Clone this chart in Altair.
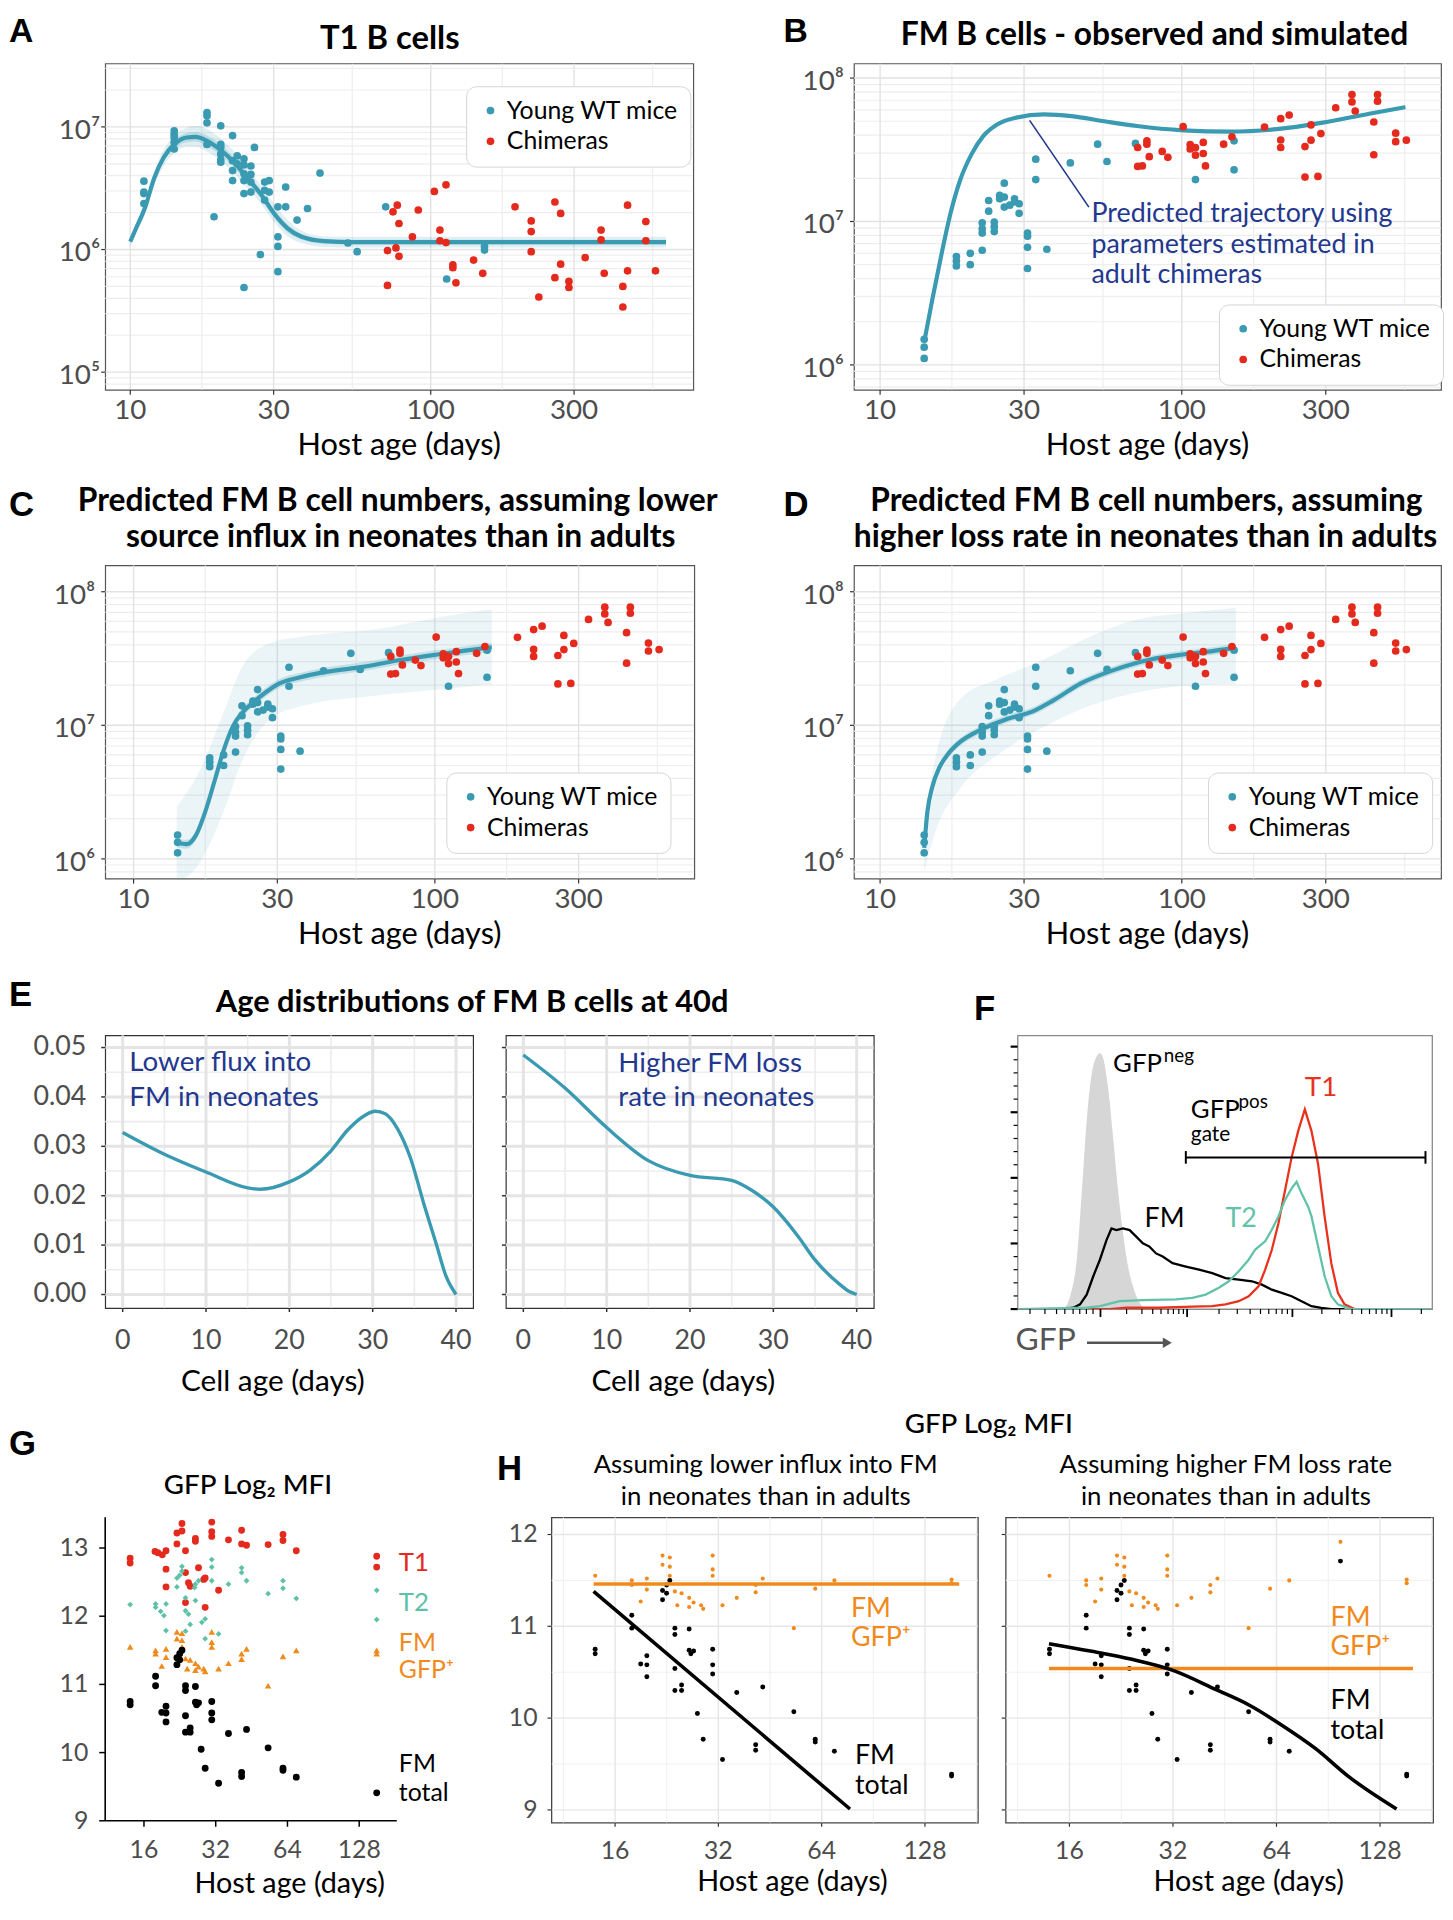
import altair as alt
import pandas as pd

# ---------------- fonts / colours ----------------
FONT = "Lato"
LFONT = "Liberation Sans"
TEAL = "#3a9ab2"
RED = "#e42a1d"
NAVY = "#22388e"
ORANGE = "#f08a1c"
T2C = "#5ec1a8"
LBL = "#4d4d4d"
GMAJ = "#e2e2e2"
GMIN = "#eeeeee"

# ---------------- data: panel A (T1 B cells) ----------------
a_wt = [(11.1, 3.61e6), (11.1, 2.94e6), (11.1, 2.86e6), (11.1, 2.37e6),
        (14.0, 9.3e6), (14.0, 8.7e6), (14.0, 8.2e6), (14.0, 7.5e6), (14.0, 6.6e6),
        (18.0, 1.31e7), (18.0, 1.23e7), (18.0, 1.08e7), (18.0, 7.2e6), (19.0, 1.85e6),
        (20.0, 1.02e7), (20.0, 7.2e6), (20.0, 6.8e6), (20.0, 6.0e6), (20.0, 5.4e6), (20.0, 5.15e6),
        (21.9, 8.5e6), (21.9, 5.3e6), (21.9, 4.4e6), (21.9, 3.65e6), (22.7, 5.8e6), (22.7, 5.0e6),
        (23.9, 5.5e6), (23.9, 4.9e6), (23.9, 4.14e6), (23.9, 3.65e6), (23.9, 2.86e6), (23.9, 4.9e5),
        (25.2, 4.8e6), (25.2, 4.1e6), (25.2, 3.55e6), (25.2, 2.94e6), (25.9, 6.8e6), (27.1, 9.1e5),
        (28.0, 3.55e6), (28.0, 3.04e6), (28.0, 2.53e6), (29.0, 3.65e6), (29.0, 2.94e6),
        (31.0, 2.23e6), (31.0, 1.27e6), (31.0, 1.06e6), (31.0, 6.6e5), (32.9, 3.23e6), (32.9, 2.23e6),
        (35.9, 1.74e6), (38.9, 2.16e6), (42.8, 4.2e6), (53.0, 1.13e6), (56.9, 9.6e5), (70.8, 2.23e6),
        (113, 5.75e5), (151, 1.06e6), (151, 9.9e5)]
a_ch = [(71.8, 9.8e5), (71.8, 5.1e5), (74.9, 2.03e6), (76.6, 1.03e6), (77.4, 2.3e6), (78.4, 1.63e6),
        (78.4, 8.8e5), (86.9, 1.27e6), (90.9, 2.1e6), (102.8, 2.98e6), (107.3, 1.44e6), (107.3, 1.18e6),
        (112.4, 3.37e6), (112.4, 1.14e6), (118.5, 7.5e5), (118.5, 7.1e5), (121.3, 5.35e5), (138.9, 8.2e5),
        (149, 6.4e5), (190.8, 2.23e6), (216, 1.71e6), (216, 1.40e6), (216, 9.6e5), (229, 4.1e5),
        (259, 2.44e6), (259, 5.9e5), (270.7, 1.97e6), (270.7, 7.6e5), (288.4, 5.5e5), (288.4, 4.9e5),
        (326.6, 8.6e5), (369, 1.44e6), (369, 1.2e6), (378, 6.4e5), (436, 5.0e5), (436, 3.4e5),
        (452, 2.3e6), (452, 6.7e5), (520, 1.69e6), (520, 1.18e6), (560, 6.7e5)]
a_line_x = [10, 10.4, 11.2, 12.0, 12.9, 14.0, 15.4, 16.5, 18.0, 19.8, 21.9, 24.4, 27.1, 30.1, 33.4, 37.2, 44.3, 54.9, 607]
a_line_y = [1.16e6, 1.45e6, 2.2e6, 3.8e6, 5.6e6, 7.2e6, 8.2e6, 8.3e6, 7.7e6, 6.6e6, 5.3e6, 3.9e6, 2.86e6,
            1.97e6, 1.49e6, 1.27e6, 1.17e6, 1.15e6, 1.15e6]
a_band_hi = [1.25e6, 1.6e6, 2.5e6, 4.3e6, 6.5e6, 8.5e6, 9.8e6, 1.02e7, 9.6e6, 8.2e6, 6.5e6, 4.7e6, 3.4e6,
             2.35e6, 1.75e6, 1.42e6, 1.28e6, 1.27e6, 1.27e6]
a_band_lo = [1.07e6, 1.32e6, 1.95e6, 3.3e6, 4.8e6, 6.1e6, 6.9e6, 6.9e6, 6.3e6, 5.4e6, 4.3e6, 3.2e6, 2.4e6,
             1.68e6, 1.28e6, 1.13e6, 1.05e6, 1.04e6, 1.04e6]
a_band2_hi = [1.21e6, 1.52e6, 2.32e6, 4.0e6, 6.0e6, 7.8e6, 8.9e6, 9.1e6, 8.5e6, 7.3e6, 5.8e6, 4.25e6, 3.1e6,
              2.13e6, 1.6e6, 1.34e6, 1.22e6, 1.2e6, 1.2e6]
a_band2_lo = [1.11e6, 1.38e6, 2.08e6, 3.55e6, 5.2e6, 6.6e6, 7.5e6, 7.6e6, 7.0e6, 6.0e6, 4.8e6, 3.55e6, 2.62e6,
              1.82e6, 1.38e6, 1.2e6, 1.11e6, 1.1e6, 1.1e6]

# ---------------- data: panels B, C, D (FM B cells) ----------------
fm_wt = [(14.0, 1.51e6), (14.0, 1.33e6), (14.0, 1.11e6), (17.9, 5.7e6), (17.9, 5.3e6), (17.9, 4.9e6),
         (19.9, 6.0e6), (19.9, 5.0e6), (21.8, 9.8e6), (21.8, 8.9e6), (21.8, 8.3e6), (21.8, 6.3e6),
         (22.9, 1.40e7), (22.9, 1.18e7), (23.9, 9.9e6), (23.9, 9.2e6), (23.9, 8.5e6), (24.9, 1.52e7),
         (24.9, 1.44e7), (25.8, 1.85e7), (25.8, 1.48e7), (25.8, 1.26e7), (26.9, 1.3e7), (27.9, 1.44e7),
         (27.9, 1.37e7), (28.9, 1.33e7), (28.9, 1.14e7), (30.8, 8.3e6), (30.8, 7.9e6), (30.8, 6.6e6),
         (30.8, 4.7e6), (32.8, 2.72e7), (32.8, 1.96e7), (35.7, 6.4e6), (42.7, 2.56e7), (52.6, 3.46e7),
         (56.5, 2.62e7), (70.2, 3.5e7), (111, 1.96e7), (149, 3.65e7), (149, 2.29e7)]
fm_ch = [(71.4, 3.28e7), (71.4, 2.42e7), (74.0, 2.44e7), (76.6, 3.65e7), (76.6, 3.46e7), (78.0, 2.83e7),
         (86.1, 3.08e7), (89.9, 2.8e7), (101, 4.58e7), (106.6, 3.43e7), (106.6, 3.2e7), (111, 3.28e7),
         (111, 2.9e7), (117.8, 3.56e7), (117.8, 2.98e7), (119.8, 2.44e7), (137.6, 3.46e7), (146.6, 3.89e7),
         (188, 4.56e7), (212.7, 5.21e7), (212.7, 3.7e7), (212.7, 3.28e7), (226.9, 5.52e7), (256, 3.33e7),
         (268, 4.71e7), (268, 3.69e7), (256, 2.04e7), (282.6, 2.06e7), (289, 4.1e7), (323.6, 6.21e7),
         (366.4, 7.67e7), (366.4, 6.82e7), (375.6, 5.89e7), (432.8, 4.94e7), (432.8, 2.92e7),
         (445.4, 7.67e7), (445.4, 6.9e7), (511.5, 4.13e7), (511.5, 3.6e7), (554.9, 3.69e7)]
b_line_x = [14.0, 14.9, 16.0, 17.1, 18.4, 20.1, 22.0, 24.5, 28.2, 34.9, 43.1, 55.3, 71, 101, 144, 206, 293, 418, 551]
b_line_y = [1.44e6, 2.86e6, 6.0e6, 1.13e7, 1.93e7, 2.95e7, 3.95e7, 4.76e7, 5.29e7, 5.58e7, 5.43e7, 5.0e7,
            4.63e7, 4.32e7, 4.23e7, 4.4e7, 4.89e7, 5.64e7, 6.27e7]
b_note_x = [31.3, 49.2]
b_note_y = [5.07e7, 1.26e7]
b_note_text = ["Predicted trajectory using", "parameters estimated in", "adult chimeras"]
b_note_tx = [50.2, 50.2, 50.2]
b_note_ty = [1.13e7, 6.9e6, 4.2e6]

c_line_x = [13.9, 15.0, 16.1, 17.3, 18.6, 19.9, 21.4, 23.0, 25.1, 27.4, 30.5, 35.2, 43.5, 57.7, 76.7, 101.9, 126, 154.5]
c_line_y = [1.32e6, 1.29e6, 1.5e6, 2.26e6, 3.88e6, 6.5e6, 9.9e6, 1.25e7, 1.5e7, 1.76e7, 2.06e7, 2.27e7,
            2.51e7, 2.74e7, 3.08e7, 3.39e7, 3.62e7, 3.84e7]
c_nar_hi = [1.43e6, 1.39e6, 1.62e6, 2.44e6, 4.2e6, 7.0e6, 1.07e7, 1.35e7, 1.62e7, 1.9e7, 2.22e7, 2.45e7,
            2.71e7, 2.96e7, 3.33e7, 3.66e7, 3.91e7, 4.15e7]
c_nar_lo = [1.22e6, 1.19e6, 1.39e6, 2.09e6, 3.59e6, 6.0e6, 9.2e6, 1.16e7, 1.39e7, 1.63e7, 1.91e7, 2.1e7,
            2.32e7, 2.54e7, 2.85e7, 3.14e7, 3.35e7, 3.56e7]
c_wide_x = [13.9, 16.7, 19.9, 23.0, 28.4, 36.4, 62, 105.5, 154.5]
c_wide_hi = [2.46e6, 4.7e6, 1.25e7, 2.77e7, 4.13e7, 4.63e7, 5.19e7, 6.5e7, 7.4e7]
c_wide_lo = [6.5e5, 9.6e5, 2.26e6, 5.5e6, 1.11e7, 1.4e7, 1.66e7, 1.86e7, 2.03e7]

d_line_x = [14.0, 14.35, 14.9, 15.7, 16.8, 18.4, 21.2, 26.2, 32.5, 37.4, 46.3, 59.4, 78.8, 101, 125, 149]
d_line_y = [1.21e6, 2.26e6, 3.47e6, 4.8e6, 6.1e6, 7.5e6, 9.1e6, 1.11e7, 1.29e7, 1.53e7, 2.06e7, 2.59e7,
            3.11e7, 3.39e7, 3.58e7, 3.8e7]
d_nar_hi = [1.3e6, 2.42e6, 3.71e6, 5.14e6, 6.53e6, 8.0e6, 9.7e6, 1.19e7, 1.38e7, 1.64e7, 2.2e7, 2.77e7,
            3.33e7, 3.63e7, 3.83e7, 4.07e7]
d_nar_lo = [1.13e6, 2.11e6, 3.24e6, 4.49e6, 5.7e6, 7.0e6, 8.5e6, 1.04e7, 1.21e7, 1.43e7, 1.93e7, 2.42e7,
            2.91e7, 3.17e7, 3.35e7, 3.55e7]
d_wide_x = [14.0, 15.4, 18.4, 24.4, 34.8, 49.7, 70.9, 101, 151]
d_wide_hi = [2.0e6, 6.3e6, 1.57e7, 2.21e7, 3.11e7, 4.63e7, 6.2e7, 6.9e7, 7.6e7]
d_wide_lo = [8.1e5, 1.7e6, 3.37e6, 5.96e6, 9.7e6, 1.4e7, 1.76e7, 1.97e7, 2.03e7]

# tick values / labels for the cell-number panels
count_x_ticks = [10, 30, 100, 300]
count_x_labels = ["10", "30", "100", "300"]
a_y_ticks = [1e5, 1e6, 1e7]
a_y_labels = ["10\u2075", "10\u2076", "10\u2077"]
fm_y_ticks = [1e6, 1e7, 1e8]
fm_y_labels = ["10\u2076", "10\u2077", "10\u2078"]

# ---------------- data: panel E (age distributions) ----------------
e1_x = [0, 5, 10, 15, 16.5, 20, 22.5, 25, 27, 29, 30.3, 31.5, 33, 34.5, 36.25, 37.6, 38.8, 40]
e1_y = [0.0328, 0.0284, 0.0248, 0.0216, 0.0213, 0.0228, 0.0252, 0.0291, 0.0333, 0.0362, 0.0371, 0.0366,
        0.0335, 0.0278, 0.0177, 0.0104, 0.0037, 0.0]
e2_x = [0, 5, 10, 15, 20, 25, 27.4, 30, 33, 35, 38, 39, 40]
e2_y = [0.0485, 0.0418, 0.0338, 0.0271, 0.0241, 0.0231, 0.0211, 0.0177, 0.0117, 0.007, 0.002, 0.0007, 0.0]
e_x_ticks = [0, 10, 20, 30, 40]
e_x_labels = ["0", "10", "20", "30", "40"]
e_y_ticks = [0, 0.01, 0.02, 0.03, 0.04, 0.05]
e_y_labels = ["0.00", "0.01", "0.02", "0.03", "0.04", "0.05"]

# ---------------- data: panel F (GFP histograms, channel units 0-1000, % of max) ----------------
f_neg_x = [110.8, 126.8, 142.7, 154.7, 166.7, 178.6, 190.6, 198.6, 206.5, 218.5, 230.5, 242.4, 254.4, 266.4, 278.3, 294.3, 310.2]
f_neg_y = [0, 4.9, 18.8, 44.0, 71.7, 89.3, 96.2, 97.5, 95.6, 84.2, 65.5, 45.3, 28.9, 16.3, 8.7, 2.4, 0]
f_fm_x = [102.9, 134.8, 150.7, 166.7, 182.6, 198.6, 214.5, 226.5, 238.4, 254.4, 270.3, 286.3, 302.2, 318.2,
          334.1, 350.1, 374.0, 405.9, 437.8, 469.7, 501.6, 533.5, 565.4, 589.3, 613.2, 637.2, 661.1, 685.0,
          708.9, 732.9, 756.8, 788.7]
f_fm_y = [0, 0.5, 1.8, 5.5, 12.5, 18.8, 26.3, 30.7, 30.1, 30.7, 30.1, 27.6, 25.1, 23.8, 21.2, 20.0, 17.5,
          16.2, 15.0, 13.7, 11.8, 11.2, 10.6, 9.3, 7.4, 6.2, 4.9, 3.0, 1.1, 0.5, 0, 0]
f_t2_x = [0, 166.7, 198.6, 246.4, 302.2, 382.0, 421.8, 453.7, 485.6, 509.6, 533.5, 557.4, 573.4, 597.3,
          613.2, 629.2, 645.1, 661.1, 673.1, 685.0, 701.0, 709.0, 724.9, 740.8, 756.8, 772.7, 804.6, 1000]
f_t2_y = [0, 0.5, 1.1, 3.0, 3.4, 3.7, 4.3, 5.5, 8.1, 10.6, 14.4, 18.8, 22.7, 25.8, 30.2, 35.3, 41.6, 46.0,
          48.5, 44.1, 39.0, 35.3, 23.9, 12.5, 4.9, 1.8, 0, 0]
f_t1_x = [0, 222.5, 262.4, 342.1, 421.8, 469.7, 501.6, 533.5, 557.4, 581.3, 597.3, 613.2, 629.2, 645.1,
          661.1, 677.0, 693.0, 708.9, 724.9, 740.8, 756.8, 772.7, 788.7, 812.6, 1000]
f_t1_y = [0, 0, 0.5, 0.5, 0.9, 1.1, 1.8, 3.0, 4.9, 8.7, 15.0, 22.5, 32.6, 45.2, 57.8, 67.9, 76.1, 67.9,
          55.3, 35.1, 17.5, 6.2, 1.8, 0, 0]
f_major_x = [200, 409, 663, 902]
f_minor_x = [30, 66, 94, 114, 134, 150, 166, 182, 263, 300, 326, 346, 363, 376, 389, 400,
             486, 530, 561, 586, 606, 624, 638, 651, 734, 777, 807, 830, 849, 865, 879, 891, 974]
f_major_y = [0, 25, 50, 75, 100]
f_minor_y = [5, 10, 15, 20, 30, 35, 40, 45, 55, 60, 65, 70, 80, 85, 90, 95]

# ---------------- data: panels G, H (GFP log2 MFI) ----------------
g_t1 = [(14.0, 12.85), (14.0, 12.78), (17.8, 12.95), (18.3, 12.93), (19.1, 12.90), (19.8, 12.96),
        (19.8, 12.69), (19.8, 12.43), (22.0, 13.22), (22.0, 13.06), (23.1, 13.36), (23.1, 13.25),
        (23.9, 12.96), (23.9, 12.64), (24.6, 12.49), (25.0, 12.44), (23.9, 12.20), (26.3, 13.14),
        (26.3, 13.10), (27.1, 12.71), (28.5, 12.54), (28.9, 12.56), (28.9, 12.13), (30.8, 13.38),
        (30.8, 13.24), (30.8, 13.17), (32.9, 12.38), (36.2, 13.12), (41.1, 13.26), (41.1, 13.06),
        (43.1, 13.04), (53.1, 13.05), (61.3, 13.20), (61.3, 13.11), (69.7, 12.96)]
g_t2 = [(14.0, 12.17), (17.9, 12.18), (17.9, 12.13), (18.8, 12.07), (19.4, 12.01), (19.8, 12.18),
        (19.8, 11.79), (22.0, 12.56), (22.0, 12.43), (23.1, 12.73), (23.1, 12.66), (22.6, 12.60),
        (23.9, 12.27), (23.9, 12.08), (24.6, 12.03), (25.0, 11.88), (23.9, 11.78), (26.1, 12.42),
        (26.3, 12.47), (27.1, 12.52), (26.3, 12.23), (28.0, 11.91), (28.9, 11.96), (28.9, 11.67),
        (30.8, 12.83), (30.8, 12.72), (30.8, 12.52), (32.9, 11.74), (36.2, 12.47), (41.1, 12.71),
        (41.1, 12.64), (43.1, 12.52), (53.1, 12.33), (61.3, 12.52), (61.3, 12.41), (69.7, 12.26)]
g_fmpos = [(14.0, 11.55), (17.9, 11.50), (17.9, 11.45), (19.0, 11.27), (19.8, 11.52), (19.8, 11.40),
           (22.0, 11.77), (22.0, 11.67), (23.1, 11.75), (23.1, 11.65), (23.1, 11.55), (23.9, 11.38),
           (24.3, 11.23), (25.0, 11.36), (26.3, 11.31), (26.3, 11.21), (27.1, 11.26), (28.5, 11.23),
           (28.9, 11.19), (30.8, 11.77), (30.8, 11.62), (30.8, 11.55), (32.9, 11.23), (36.2, 11.31),
           (41.1, 11.45), (41.1, 11.37), (43.1, 11.52), (53.1, 10.98), (61.3, 11.41), (69.7, 11.50)]
g_fmtot = [(14.0, 10.75), (14.0, 10.70), (17.9, 11.12), (17.9, 10.98), (19.0, 10.59), (19.8, 10.68),
           (19.8, 10.58), (19.8, 10.45), (22.0, 11.39), (22.0, 11.29), (22.6, 11.45), (23.1, 11.50),
           (22.6, 11.36), (23.9, 10.98), (23.9, 10.91), (23.9, 10.54), (23.9, 10.30), (25.0, 10.36),
           (25.0, 10.30), (26.3, 10.97), (26.3, 10.74), (26.6, 10.70), (27.1, 10.73), (27.8, 10.05),
           (28.9, 9.77), (30.8, 10.75), (30.8, 10.58), (30.8, 10.48), (32.9, 9.55), (36.2, 10.28),
           (41.1, 9.71), (41.1, 9.65), (43.1, 10.34), (53.1, 10.07), (61.3, 9.77), (61.3, 9.74), (69.7, 9.64)]
h_extra_pos = [(153, 11.51), (153, 11.47)]
h_extra_tot = [(153, 9.39), (153, 9.37)]
h2_extra_pos = [(98.2, 11.92)]
h2_extra_tot = [(98.2, 11.71)]
h1_pos_line_x = [13.85, 161]
h1_pos_line_y = [11.46, 11.46]
h1_tot_line_x = [13.85, 77.4]
h1_tot_line_y = [11.38, 9.01]
h2_pos_line_x = [13.95, 159.6]
h2_pos_line_y = [10.54, 10.54]
h2_tot_line_x = [13.95, 18.4, 24.3, 32, 42.7, 53.4, 66.5, 83, 104, 143]
h2_tot_line_y = [10.81, 10.73, 10.64, 10.52, 10.31, 10.14, 9.92, 9.67, 9.36, 9.01]
age2_ticks = [16, 32, 64, 128]
age2_labels = ["16", "32", "64", "128"]
g_y_ticks = [9, 10, 11, 12, 13]
h_y_ticks = [9, 10, 11, 12]


# ---------------- helpers ----------------
def one(t=""):
    return pd.DataFrame({"t": [t]})


def ptext(t, x, y, size, color="black", align="left", weight="normal", font=FONT, baseline="alphabetic"):
    return alt.Chart(one(t)).mark_text(font=font, fontSize=size, color=color, align=align,
                                       baseline=baseline, fontWeight=weight).encode(
        x=alt.value(x), y=alt.value(y), text="t:N")


def letter(t, x, y, size=35):
    return ptext(t, x, y, size, weight="bold", font=LFONT)


def dtext(rows, xs, ys, size, color, align="left", baseline="middle", dx=0, dy=0, weight="normal"):
    df = pd.DataFrame(rows, columns=["x", "y", "t"])
    return alt.Chart(df).mark_text(font=FONT, fontSize=size, color=color, align=align, baseline=baseline,
                                   dx=dx, dy=dy, fontWeight=weight).encode(
        x=alt.X("x:Q", scale=xs, axis=None), y=alt.Y("y:Q", scale=ys, axis=None), text="t:N")


def vrules(vals, scale, color, width):
    return alt.Chart(pd.DataFrame({"v": vals})).mark_rule(color=color, strokeWidth=width, clip=True).encode(
        x=alt.X("v:Q", scale=scale, axis=None))


def hrules(vals, scale, color, width):
    return alt.Chart(pd.DataFrame({"v": vals})).mark_rule(color=color, strokeWidth=width, clip=True).encode(
        y=alt.Y("v:Q", scale=scale, axis=None))


def line(xv, yv, xs, ys, color, width, interp="monotone"):
    return alt.Chart(pd.DataFrame({"x": xv, "y": yv})).mark_line(
        color=color, strokeWidth=width, interpolate=interp, clip=True).encode(
        x=alt.X("x:Q", scale=xs, axis=None), y=alt.Y("y:Q", scale=ys, axis=None))


def band(xv, lo, hi, xs, ys, opacity):
    return alt.Chart(pd.DataFrame({"x": xv, "lo": lo, "hi": hi})).mark_area(
        color=TEAL, opacity=opacity, interpolate="monotone", clip=True).encode(
        x=alt.X("x:Q", scale=xs, axis=None), y=alt.Y("lo:Q", scale=ys, axis=None), y2="hi:Q")


def pts(rows, xs, ys, color, size, shape="circle"):
    df = pd.DataFrame(rows, columns=["x", "y"])
    return alt.Chart(df).mark_point(shape=shape, filled=True, color=color, size=size, opacity=1).encode(
        x=alt.X("x:Q", scale=xs, axis=None), y=alt.Y("y:Q", scale=ys, axis=None))


def x_axis(vals, labels, xs, ys, ymin, h, tick, dy, size, width=1.2, color="#333333"):
    tk = alt.Chart(pd.DataFrame({"v": vals})).mark_rule(color=color, strokeWidth=width).encode(
        x=alt.X("v:Q", scale=xs, axis=None), y=alt.value(h), y2=alt.value(h + tick))
    lb = dtext([(v, ymin, l) for v, l in zip(vals, labels)], xs, ys, size, LBL, align="center",
               baseline="alphabetic", dy=dy)
    return [tk, lb]


def y_axis(vals, labels, xs, ys, xmin, tick, dx, size, dy=0, width=1.2, color="#333333"):
    out = [alt.Chart(pd.DataFrame({"v": vals})).mark_rule(color=color, strokeWidth=width).encode(
        y=alt.Y("v:Q", scale=ys, axis=None), x=alt.value(-tick), x2=alt.value(0))]
    if labels:
        out.append(dtext([(xmin, v, l) for v, l in zip(vals, labels)], xs, ys, size, LBL, align="right",
                         baseline="middle", dx=-dx, dy=dy))
    return out


def spacer(w):
    return alt.Chart(one()).mark_point(opacity=0).encode(x=alt.value(0), y=alt.value(0)).properties(
        width=w, height=1, view=alt.ViewBackground(stroke="transparent"))


def count_panel(w, h, xdom, ydom, ymaj, ylabels, ydx, wt, ch, bands, line_x, line_y, legxy, extra):
    xs = alt.Scale(type="log", domain=xdom, nice=False)
    ys = alt.Scale(type="log", domain=ydom, nice=False)
    ymin = [k * 10 ** e for e in range(4, 9) for k in range(2, 10)]
    layers = [vrules([17.3, 54.8, 173, 548], xs, GMIN, 1.2), hrules(ymin, ys, GMIN, 1.2),
              vrules(count_x_ticks, xs, GMAJ, 1.4), hrules(ymaj, ys, GMAJ, 1.4)]
    for bx, blo, bhi, op in bands:
        layers.append(band(bx, blo, bhi, xs, ys, op))
    layers.append(line(line_x, line_y, xs, ys, TEAL, 4.2))
    df = pd.DataFrame([(x, y, "Young WT mice") for x, y in wt] + [(x, y, "Chimeras") for x, y in ch],
                      columns=["x", "y", "g"])
    legend = alt.Legend(title=None, orient="none", legendX=legxy[0], legendY=legxy[1], fillColor="white",
                        strokeColor="#d4d4d4", cornerRadius=10, padding=12, labelFont=FONT, labelFontSize=25,
                        labelColor="black", labelLimit=400, symbolType="circle", symbolSize=60,
                        symbolStrokeWidth=0, labelOffset=4, rowPadding=5)
    layers.append(alt.Chart(df).mark_circle(size=60, opacity=1).encode(
        x=alt.X("x:Q", scale=xs, axis=None), y=alt.Y("y:Q", scale=ys, axis=None),
        color=alt.Color("g:N", scale=alt.Scale(domain=["Young WT mice", "Chimeras"], range=[TEAL, RED]),
                        legend=legend)))
    layers += x_axis(count_x_ticks, count_x_labels, xs, ys, ydom[0], h, 5, 30, 28)
    layers += y_axis(ymaj, ylabels, xs, ys, xdom[0], 4, ydx, 28, dy=4)
    layers.append(ptext("Host age (days)", w / 2, h + 66, 31, align="center"))
    layers += extra
    return alt.layer(*layers).properties(width=w, height=h,
                                         view=alt.ViewBackground(stroke="#555555", strokeWidth=1.2))


# ---------------- panel A ----------------
A = count_panel(593, 329, [8.25, 748], [7.19e4, 3.29e7], a_y_ticks, a_y_labels, 5, a_wt, a_ch,
                [(a_line_x, a_band_lo, a_band_hi, 0.16), (a_line_x, a_band2_lo, a_band2_hi, 0.22)],
                a_line_x, a_line_y, (364, 23),
                [letter("A", -97, -22, 34), ptext("T1 B cells", 287, -15, 33, align="center", weight="bold")])

# ---------------- panel B ----------------
xsB = alt.Scale(type="log", domain=[8.19, 723], nice=False)
ysB = alt.Scale(type="log", domain=[6.71e5, 1.264e8], nice=False)
b_extra = [
    alt.Chart(pd.DataFrame({"x": b_note_x, "y": b_note_y})).mark_line(color=NAVY, strokeWidth=1.6).encode(
        x=alt.X("x:Q", scale=xsB, axis=None), y=alt.Y("y:Q", scale=ysB, axis=None)),
    dtext(list(zip(b_note_tx, b_note_ty, b_note_text)), xsB, ysB, 27, NAVY),
    letter("B", -71, -22, 34),
    ptext("FM B cells - observed and simulated", 303, -19, 32, align="center", weight="bold"),
]
B = count_panel(592, 329, [8.19, 723], [6.71e5, 1.264e8], fm_y_ticks, fm_y_labels, 10, fm_wt, fm_ch, [],
                b_line_x, b_line_y, (368, 243), b_extra)

# ---------------- panel C ----------------
C = count_panel(594, 316, [8.05, 726], [7.11e5, 1.578e8], fm_y_ticks, fm_y_labels, 10, fm_wt, fm_ch,
                [(c_wide_x, c_wide_lo, c_wide_hi, 0.10), (c_line_x, c_nar_lo, c_nar_hi, 0.22)],
                c_line_x, c_line_y, (344, 209),
                [letter("C", -97, -50),
                 ptext("Predicted FM B cell numbers, assuming lower", 295, -55, 32, align="center", weight="bold"),
                 ptext("source influx in neonates than in adults", 298, -18, 32, align="center", weight="bold")])

# ---------------- panel D ----------------
D = count_panel(592, 316, [8.19, 723], [7.11e5, 1.578e8], fm_y_ticks, fm_y_labels, 10, fm_wt, fm_ch,
                [(d_wide_x, d_wide_lo, d_wide_hi, 0.10), (d_line_x, d_nar_lo, d_nar_hi, 0.22)],
                d_line_x, d_line_y, (357, 209),
                [letter("D", -71, -50),
                 ptext("Predicted FM B cell numbers, assuming", 295, -55, 32, align="center", weight="bold"),
                 ptext("higher loss rate in neonates than in adults", 294, -18, 32, align="center", weight="bold")])


# ---------------- panel E ----------------
def e_panel(cx, cy, notes, show_y, title_x, extra):
    xdom = [-2.1, 42.05]
    ydom = [-0.00275, 0.05247]
    xs = alt.Scale(domain=xdom, nice=False, zero=False)
    ys = alt.Scale(domain=ydom, nice=False, zero=False)
    layers = [vrules([5, 15, 25, 35], xs, "#ececec", 1.6),
              hrules([0.005, 0.015, 0.025, 0.035, 0.045], ys, "#ececec", 1.6),
              vrules(e_x_ticks, xs, "#e4e4e4", 3),
              hrules(e_y_ticks, ys, "#e4e4e4", 3),
              line(cx, cy, xs, ys, TEAL, 3.4),
              dtext(notes, xs, ys, 28, NAVY)]
    layers += x_axis(e_x_ticks, e_x_labels, xs, ys, ydom[0], 275, 4, 41, 27, width=1.5)
    layers += y_axis(e_y_ticks, e_y_labels if show_y else None, xs, ys, xdom[0], 4, 19, 27, width=1.5)
    layers.append(ptext("Cell age (days)", title_x, 275 + 84, 30, align="center"))
    layers += extra
    return alt.layer(*layers).properties(width=371, height=275,
                                         view=alt.ViewBackground(stroke="#333333", strokeWidth=1.2))


E1 = e_panel(e1_x, e1_y, [(0.8, 0.0469, "Lower flux into"), (0.8, 0.0398, "FM in neonates")], True, 169,
             [letter("E", -97, -30),
              ptext("Age distributions of FM B cells at 40d", 370, -24, 31, align="center", weight="bold")])
E2 = e_panel(e2_x, e2_y, [(11.4, 0.0467, "Higher FM loss"), (11.4, 0.0398, "rate in neonates")], False, 179, [])

# ---------------- panel F ----------------
fxs = alt.Scale(domain=[0, 1000], nice=False, zero=False)
fys = alt.Scale(domain=[0, 104.3], nice=False, zero=False)
f_layers = [
    alt.Chart(pd.DataFrame({"x": f_neg_x, "y": f_neg_y})).mark_area(color="#d6d6d6", interpolate="monotone").encode(
        x=alt.X("x:Q", scale=fxs, axis=None), y=alt.Y("y:Q", scale=fys, axis=None)),
    alt.Chart(pd.DataFrame({"v": f_major_x})).mark_rule(color="black", strokeWidth=1.8).encode(
        x=alt.X("v:Q", scale=fxs, axis=None), y=alt.value(276), y2=alt.value(284)),
    alt.Chart(pd.DataFrame({"v": f_minor_x})).mark_rule(color="black", strokeWidth=1.2).encode(
        x=alt.X("v:Q", scale=fxs, axis=None), y=alt.value(276), y2=alt.value(281)),
    alt.Chart(pd.DataFrame({"v": f_major_y})).mark_rule(color="black", strokeWidth=2.2).encode(
        y=alt.Y("v:Q", scale=fys, axis=None), x=alt.value(-7), x2=alt.value(0)),
    alt.Chart(pd.DataFrame({"v": f_minor_y})).mark_rule(color="black", strokeWidth=1.2).encode(
        y=alt.Y("v:Q", scale=fys, axis=None), x=alt.value(-4), x2=alt.value(0)),
    line(f_fm_x, f_fm_y, fxs, fys, "black", 2.3, "linear"),
    line(f_t1_x, f_t1_y, fxs, fys, "#e8321e", 2.3, "linear"),
    line(f_t2_x, f_t2_y, fxs, fys, "#62c2a9", 2.3, "linear"),
    alt.Chart(pd.DataFrame({"x1": [405.9], "x2": [984], "y": [57.8]})).mark_rule(color="black", strokeWidth=2).encode(
        x=alt.X("x1:Q", scale=fxs, axis=None), x2="x2:Q", y=alt.Y("y:Q", scale=fys, axis=None)),
    alt.Chart(pd.DataFrame({"x": [405.9, 984], "y1": [55.4, 55.4], "y2": [60.2, 60.2]})).mark_rule(
        color="black", strokeWidth=2).encode(
        x=alt.X("x:Q", scale=fxs, axis=None), y=alt.Y("y1:Q", scale=fys, axis=None), y2="y2:Q"),
    dtext([(230.5, 90.5, "GFP")], fxs, fys, 26, "black", baseline="alphabetic"),
    dtext([(230.5, 90.5, "neg")], fxs, fys, 19, "black", baseline="alphabetic", dx=51, dy=-10),
    dtext([(417.9, 72.9, "GFP")], fxs, fys, 26, "black", baseline="alphabetic"),
    dtext([(417.9, 72.9, "pos")], fxs, fys, 19, "black", baseline="alphabetic", dx=48, dy=-10),
    dtext([(417.9, 64.1, "gate")], fxs, fys, 21, "black", baseline="alphabetic"),
    dtext([(693, 81.1, "T1")], fxs, fys, 28, "#e8321e", baseline="alphabetic"),
    dtext([(501.6, 31.1, "T2")], fxs, fys, 27, "#62c2a9", baseline="alphabetic"),
    dtext([(306.2, 31.1, "FM")], fxs, fys, 27, "black", baseline="alphabetic"),
    ptext("GFP", -2, 317, 32, color="#555555"),
    alt.Chart(one()).mark_rule(color="#555555", strokeWidth=2.5).encode(
        x=alt.value(70), x2=alt.value(150), y=alt.value(310)),
    alt.Chart(one()).mark_point(shape="triangle-right", filled=True, color="#555555", size=110, opacity=1).encode(
        x=alt.value(151), y=alt.value(310)),
    letter("F", -44, -15),
]
F = alt.layer(*f_layers).properties(width=418, height=276,
                                    view=alt.ViewBackground(stroke="#8a8a8a", strokeWidth=1.3))

# ---------------- panel G ----------------
g_xdom = [11.0, 184]
g_ydom = [9, 13.45]
gxs = alt.Scale(type="log", base=2, domain=g_xdom, nice=False)
gys = alt.Scale(domain=g_ydom, nice=False, zero=False)
g_layers = [
    alt.Chart(one()).mark_rule(color="black", strokeWidth=1.6).encode(
        x=alt.value(0), y=alt.value(0), y2=alt.value(306)),
    alt.Chart(one()).mark_rule(color="black", strokeWidth=1.6).encode(
        x=alt.value(0), x2=alt.value(294), y=alt.value(306)),
    pts(g_t1, gxs, gys, RED, 48),
    pts(g_t2, gxs, gys, T2C, 34, "diamond"),
    pts(g_fmpos, gxs, gys, ORANGE, 44, "triangle-up"),
    pts(g_fmtot, gxs, gys, "black", 48),
    pts([(151.6, 12.88), (151.6, 12.72)], gxs, gys, RED, 48),
    pts([(151.6, 12.38), (151.6, 11.95)], gxs, gys, T2C, 34, "diamond"),
    pts([(151.6, 11.50), (151.6, 11.45)], gxs, gys, ORANGE, 44, "triangle-up"),
    pts([(151.6, 9.41)], gxs, gys, "black", 48),
    dtext([(187.8, 12.78, "T1")], gxs, gys, 26, RED),
    dtext([(187.8, 12.19, "T2")], gxs, gys, 26, T2C),
    dtext([(187.8, 11.61, "FM"), (187.8, 11.21, "GFP\u207a")], gxs, gys, 25, ORANGE),
    dtext([(187.8, 9.83, "FM"), (187.8, 9.40, "total")], gxs, gys, 25, "black"),
    letter("G", -97, -63),
    ptext("GFP Log\u2082 MFI", 144, -24, 28, align="center", weight=500),
    ptext("Host age (days)", 186, 306 + 73, 29, align="center"),
]
g_layers += x_axis(age2_ticks, age2_labels, gxs, gys, g_ydom[0], 306, 6, 38, 25, width=1.5, color="black")
g_layers += y_axis(g_y_ticks, [str(v) for v in g_y_ticks], gxs, gys, g_xdom[0], 6, 17, 25, width=1.5,
                   color="black")
G = alt.layer(*g_layers).properties(width=294, height=306,
                                    view=alt.ViewBackground(stroke="transparent"))


# ---------------- panel H ----------------
def h_panel(w, pos_rows, tot_rows, pl_x, pl_y, tl_x, tl_y, labels, show_y, title_x, extra):
    xdom = [10.44, 182.6]
    ydom = [8.86, 12.187]
    xs = alt.Scale(type="log", base=2, domain=xdom, nice=False)
    ys = alt.Scale(domain=ydom, nice=False, zero=False)
    layers = [vrules([11.31, 22.63, 45.25, 90.5, 181], xs, "#f1f1f1", 1.1),
              hrules([9.5, 10.5, 11.5], ys, "#f1f1f1", 1.1),
              vrules(age2_ticks, xs, "#e6e6e6", 1.4),
              hrules(h_y_ticks, ys, "#e6e6e6", 1.4),
              pts(pos_rows, xs, ys, ORANGE, 17),
              pts(tot_rows, xs, ys, "black", 25),
              line(pl_x, pl_y, xs, ys, ORANGE, 3.6, "linear"),
              line(tl_x, tl_y, xs, ys, "black", 3.6, "monotone"),
              dtext(labels[:2], xs, ys, 27, ORANGE),
              dtext(labels[2:], xs, ys, 27, "black")]
    layers += x_axis(age2_ticks, age2_labels, xs, ys, ydom[0], 308, 4, 37, 25)
    layers += y_axis(h_y_ticks, [str(v) for v in h_y_ticks] if show_y else None, xs, ys, xdom[0], 4, 14, 25)
    layers.append(ptext("Host age (days)", title_x, 308 + 69, 29, align="center"))
    layers += extra
    return alt.layer(*layers).properties(width=w, height=308,
                                         view=alt.ViewBackground(stroke="#444444", strokeWidth=1.3))


H1 = h_panel(430, g_fmpos + h_extra_pos, g_fmtot + h_extra_tot, h1_pos_line_x, h1_pos_line_y, h1_tot_line_x,
             h1_tot_line_y,
             [(77.9, 11.19, "FM"), (77.9, 10.87, "GFP\u207a"), (80, 9.59, "FM"), (80, 9.26, "total")],
             True, 243,
             [letter("H", -55, -38),
              ptext("GFP Log\u2082 MFI", 441, -85, 28, align="center", weight=500),
              ptext("Assuming lower influx into FM", 216, -45, 26, align="center"),
              ptext("in neonates than in adults", 216, -12, 26, align="center")])
H2 = h_panel(431, g_fmpos + h_extra_pos + h2_extra_pos, g_fmtot + h_extra_tot + h2_extra_tot, h2_pos_line_x,
             h2_pos_line_y, h2_tot_line_x, h2_tot_line_y,
             [(91.9, 11.09, "FM"), (91.9, 10.77, "GFP\u207a"), (91.9, 10.19, "FM"), (91.9, 9.86, "total")],
             False, 245,
             [ptext("Assuming higher FM loss rate", 222, -45, 26, align="center"),
              ptext("in neonates than in adults", 222, -12, 26, align="center")])

# ---------------- layout ----------------
RES = dict(x="independent", y="independent", color="independent")
row1 = alt.hconcat(A, B, spacing=162, bounds="flush").resolve_scale(**RES)
row2 = alt.hconcat(C, D, spacing=161, bounds="flush").resolve_scale(**RES)
row3 = alt.hconcat(E1, E2, spacer(79), F, spacing=33, bounds="flush").resolve_scale(**RES)
row4 = alt.hconcat(G, spacer(100), H1, H2, spacing=28, bounds="flush").resolve_scale(**RES)
inner3 = alt.vconcat(row3, row4, spacing=486, bounds="flush").resolve_scale(**RES)
inner2 = alt.vconcat(row2, inner3, spacing=474, bounds="flush").resolve_scale(**RES)
chart = alt.vconcat(row1, inner2, spacing=506, bounds="flush",
                    padding={"left": 0, "top": -2, "right": 0, "bottom": 0}).resolve_scale(**RES)
chart = chart.configure(font=FONT).configure_view(strokeWidth=1.2)

chart.save("out.html", embed_options={"renderer": "svg", "actions": False})
